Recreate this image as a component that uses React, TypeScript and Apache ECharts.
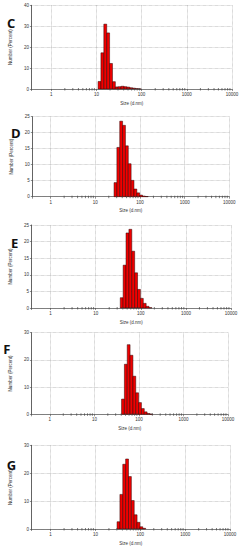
import React, { useEffect, useRef } from "react";
import * as echarts from "echarts";

// ---- data ----
const panelLetters = ["C", "D", "E", "F", "G"];
const xTickValues = [1, 10, 100, 1000, 10000];
const minorTickValues = [
  2, 3, 4, 5, 6, 7, 8, 9, 20, 30, 40, 50, 60, 70, 80, 90,
  200, 300, 400, 500, 600, 700, 800, 900, 2000, 3000, 4000, 5000, 6000, 7000, 8000, 9000,
];
const xMins = [0.364, 0.387, 0.377, 0.385, 0.374];
const xMax = 10000;
const yMaxes = [40, 25, 25, 30, 30];
const yIntervals = [10, 5, 5, 10, 10];
const binRatio = 1.1581; // Malvern size-class ratio

const sizesC = [11.7, 13.54, 15.69, 18.17, 21.04, 24.36, 28.21, 32.67, 37.84, 43.82, 50.75, 58.77, 68.06, 78.82, 91.28];
const numberC = [3.6, 17.3, 31, 26.8, 12.2, 3.5, 1.0, 1.1, 1.3, 1.1, 0.9, 0.6, 0.4, 0.2, 0.05];

const sizesD = [28.21, 32.67, 37.84, 43.82, 50.75, 58.77, 68.06, 78.82, 91.28, 105.7, 122.4, 141.8];
const numberD = [4.4, 15.4, 23.6, 22.3, 15.9, 10.3, 5.1, 2.4, 1.2, 0.5, 0.2, 0.05];

const sizesE = [37.84, 43.82, 50.75, 58.77, 68.06, 78.82, 91.28, 105.7, 122.4, 141.8, 164.2];
const numberE = [3.1, 12.9, 22.6, 23.7, 17.1, 10.6, 5.6, 2.9, 1.4, 0.5, 0.1];

const sizesF = [43.82, 50.75, 58.77, 68.06, 78.82, 91.28, 105.7, 122.4, 141.8, 164.2, 190.1];
const numberF = [5.6, 18.4, 25.6, 21.7, 14, 7.9, 4.3, 2.1, 0.9, 0.3, 0.1];

const sizesG = [32.67, 37.84, 43.82, 50.75, 58.77, 68.06, 78.82, 91.28, 105.7, 122.4];
const numberG = [2.6, 12.4, 23.2, 25.1, 18.8, 10.2, 5.1, 2.4, 0.8, 0.25];

const panelSizes = [sizesC, sizesD, sizesE, sizesF, sizesG];
const panelNumbers = [numberC, numberD, numberE, numberF, numberG];

// ---- layout ----
const grids = [
  { left: 26, right: 10, top: 5.3, height: 83.7 },
  { left: 32.3, right: 12.7, top: 116.7, height: 80 },
  { left: 26.7, right: 11, top: 225, height: 83 },
  { left: 26, right: 14, top: 332.7, height: 81.6 },
  { left: 26.7, right: 12, top: 445.3, height: 83.7 },
];
const letterPos = [
  [7, 22.5],
  [11, 133],
  [11, 243],
  [3.3, 349],
  [6.7, 465],
];

const FONT = "Liberation Sans, Arial, sans-serif";
const gridLine = { show: true, lineStyle: { type: "dotted" as const, color: "#9a9a9a", width: 0.6 } };

export default function App() {
  const ref = useRef<HTMLDivElement>(null);
  useEffect(() => {
    if (!ref.current) return;
    const chart = echarts.init(ref.current, null, { renderer: "svg" });
    const sq = Math.sqrt(binRatio);

    const xAxis = grids.map((_, i) => ({
      type: "log",
      logBase: 10,
      gridIndex: i,
      min: xMins[i],
      max: xMax,
      axisLine: { show: true, onZero: false, lineStyle: { color: "#666", width: 0.8 } },
      axisTick: { show: true, length: 2, lineStyle: { color: "#444", width: 0.6 } },
      axisLabel: {
        fontSize: 4.5,
        color: "#333",
        fontFamily: FONT,
        margin: 3,
        formatter: (v: number) => {
          const r = Math.round(v);
          return Math.abs(v - r) < 1e-6 && xTickValues.includes(r) ? String(r) : "";
        },
      },
      splitLine: gridLine,
      name: "Size (d.nm)",
      nameLocation: "middle",
      nameGap: 11.5,
      nameTextStyle: { fontSize: 4.5, color: "#333", fontFamily: FONT },
    }));

    const yAxis = grids.map((_, i) => ({
      type: "value",
      gridIndex: i,
      min: 0,
      max: yMaxes[i],
      interval: yIntervals[i],
      axisLine: { show: true, lineStyle: { color: "#444", width: 0.8 } },
      axisTick: { show: true, length: 1.5, lineStyle: { color: "#444", width: 0.6 } },
      axisLabel: { fontSize: 4.5, color: "#333", fontFamily: FONT, margin: 2.5 },
      splitLine: gridLine,
      name: "Number (Percent)",
      nameLocation: "middle",
      nameGap: 10,
      nameTextStyle: { fontSize: 4.5, color: "#333", fontFamily: FONT },
    }));

    const barSeries = panelSizes.map((sizes, i) => ({
      type: "custom",
      xAxisIndex: i,
      yAxisIndex: i,
      data: sizes.map((s, k) => [s / sq, s * sq, panelNumbers[i][k]]),
      encode: { x: [0, 1], y: 2 },
      renderItem: (_p: any, api: any) => {
        const a = api.coord([api.value(0), api.value(2)]);
        const b = api.coord([api.value(1), 0]);
        return {
          type: "rect",
          shape: { x: a[0], y: a[1], width: b[0] - a[0], height: b[1] - a[1] },
          style: { fill: "#f00000", stroke: "#2a0000", lineWidth: 0.5 },
        };
      },
    }));

    const minorSeries = grids.map((_, i) => ({
      type: "custom",
      xAxisIndex: i,
      yAxisIndex: i,
      data: minorTickValues.map((v) => [v, 0]),
      encode: { x: 0, y: 1 },
      renderItem: (_p: any, api: any) => {
        const p = api.coord([api.value(0), 0]);
        return {
          type: "line",
          shape: { x1: p[0], y1: p[1] - 1, x2: p[0], y2: p[1] + 1.5 },
          style: { stroke: "#444", lineWidth: 0.7 },
        };
      },
    }));

    const graphic = panelLetters.map((t, i) => ({
      type: "text",
      x: letterPos[i][0],
      y: letterPos[i][1],
      style: {
        text: t,
        fontSize: 13,
        fontWeight: "bold",
        fontFamily: "Open Sans, sans-serif",
        fill: "#111",
        verticalAlign: "middle",
        align: "left",
      },
    }));

    chart.setOption({
      animation: false,
      backgroundColor: "#ffffff",
      grid: grids.map((g) => ({ ...g, containLabel: false })),
      xAxis,
      yAxis,
      series: [...barSeries, ...minorSeries],
      graphic,
    });
    return () => chart.dispose();
  }, []);

  return (
    <div
      ref={ref}
      style={{ position: "absolute", left: 0, top: 0, width: 242, height: 550, background: "#fff" }}
    />
  );
}
